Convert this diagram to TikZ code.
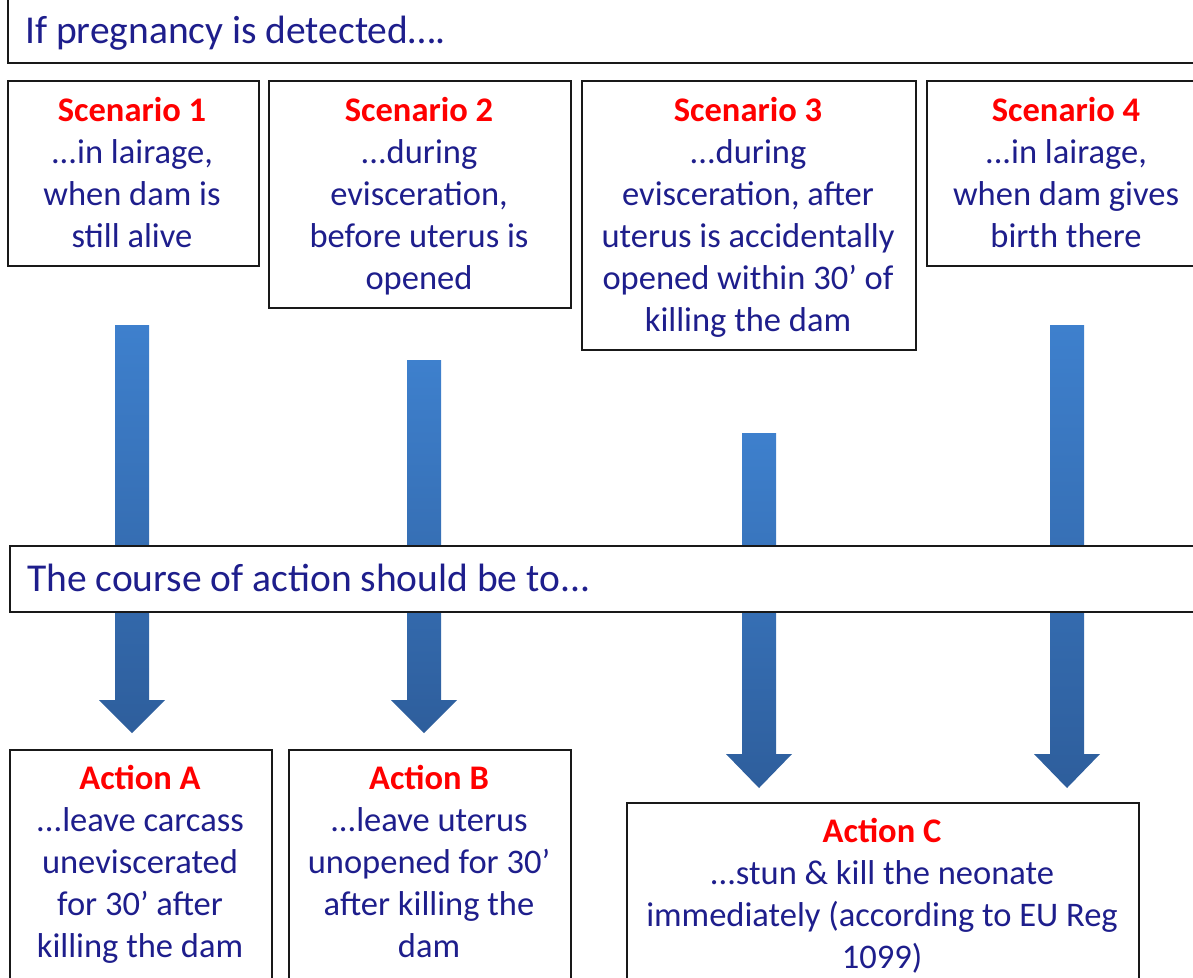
\documentclass[tikz,border=0pt]{standalone}
\usepackage{fontspec}
\setmainfont{Carlito}
\usetikzlibrary{calc}
\definecolor{tblue}{RGB}{30,30,140}
\definecolor{tred}{RGB}{255,0,0}
\definecolor{atop}{RGB}{62,128,205}
\definecolor{abot}{RGB}{46,94,156}
\newcommand{\bodyfs}{\fontsize{34.5}{42}\selectfont}
\newcommand{\headfs}{\fontsize{39.5}{47}\selectfont}
\newcommand{\ttl}[1]{\textcolor{tred}{\bfseries #1}}
\tikzset{
  boxx/.style={draw=black!90, line width=1.8pt, fill=white, rectangle, inner sep=0pt, anchor=north west},
  lbl/.style={anchor=base, inner sep=0pt, text=tblue, font=\bodyfs},
  hlbl/.style={anchor=base west, inner sep=0pt, text=tblue, font=\headfs},
}
\newcommand{\fatarrow}[4]{% x, top, headstart, tip
  \shade[top color=atop, bottom color=abot]
    (#1-17,-#2) -- (#1+17,-#2) -- (#1+17,-#3) -- (#1+33,-#3) -- (#1,-#4)
    -- (#1-33,-#3) -- (#1-17,-#3) -- cycle;
}
\begin{document}
\begin{tikzpicture}[x=1pt,y=1pt]
\useasboundingbox (0,0) rectangle (1193,-977);

% header
\node[boxx, minimum width=1200pt, minimum height=70pt] (head) at (7,8) {};
\node[hlbl] (headt) at (25,-43) {If pregnancy is detected….};

% scenario boxes
\node[boxx, minimum width=251pt, minimum height=185pt] (s1) at (7,-80) {};
\node[boxx, minimum width=302pt, minimum height=227pt] (s2) at (268,-80) {};
\node[boxx, minimum width=334pt, minimum height=269pt] (s3) at (581,-80) {};
\node[boxx, minimum width=280pt, minimum height=185pt] (s4) at (926,-80) {};

\node[lbl] (s1t) at (132,-121) {\parbox[t]{300pt}{\centering\ttl{Scenario 1}\\...in lairage,\\when dam is\\still alive}};
\node[lbl] (s2t) at (419,-121) {\parbox[t]{300pt}{\centering\ttl{Scenario 2}\\...during\\evisceration,\\before uterus is\\opened}};
\node[lbl] (s3t) at (748,-121) {\parbox[t]{340pt}{\centering\ttl{Scenario 3}\\...during\\evisceration, after\\uterus is accidentally\\opened within 30’ of\\killing the dam}};
\node[lbl] (s4t) at (1066,-121) {\parbox[t]{300pt}{\centering\ttl{Scenario 4}\\...in lairage,\\when dam gives\\birth there}};

% arrows
\fatarrow{132}{325}{700}{733}
\fatarrow{424}{360}{700}{733}
\fatarrow{759}{433}{754}{788}
\fatarrow{1067}{325}{754}{788}

% middle box
\node[boxx, minimum width=1200pt, minimum height=66pt] (mid) at (9,-545) {};
\node[hlbl] (midt) at (27,-591) {The course of action should be to...};

% action boxes
\node[boxx, minimum width=262pt, minimum height=240pt] (aa) at (9,-749) {};
\node[boxx, minimum width=282pt, minimum height=240pt] (ab) at (288,-749) {};
\node[boxx, minimum width=512pt, minimum height=190pt] (ac) at (626,-802) {};

\node[lbl] (aat) at (140,-789) {\parbox[t]{300pt}{\centering\ttl{Action A}\\...leave carcass\\uneviscerated\\for 30’ after\\killing the dam}};
\node[lbl] (abt) at (429,-789) {\parbox[t]{300pt}{\centering\ttl{Action B}\\...leave uterus\\unopened for 30’\\after killing the\\dam}};
\node[lbl] (act) at (882,-842) {\parbox[t]{500pt}{\centering\ttl{Action C}\\...stun \& kill the neonate\\immediately (according to EU Reg\\1099)}};
\end{tikzpicture}
\end{document}
